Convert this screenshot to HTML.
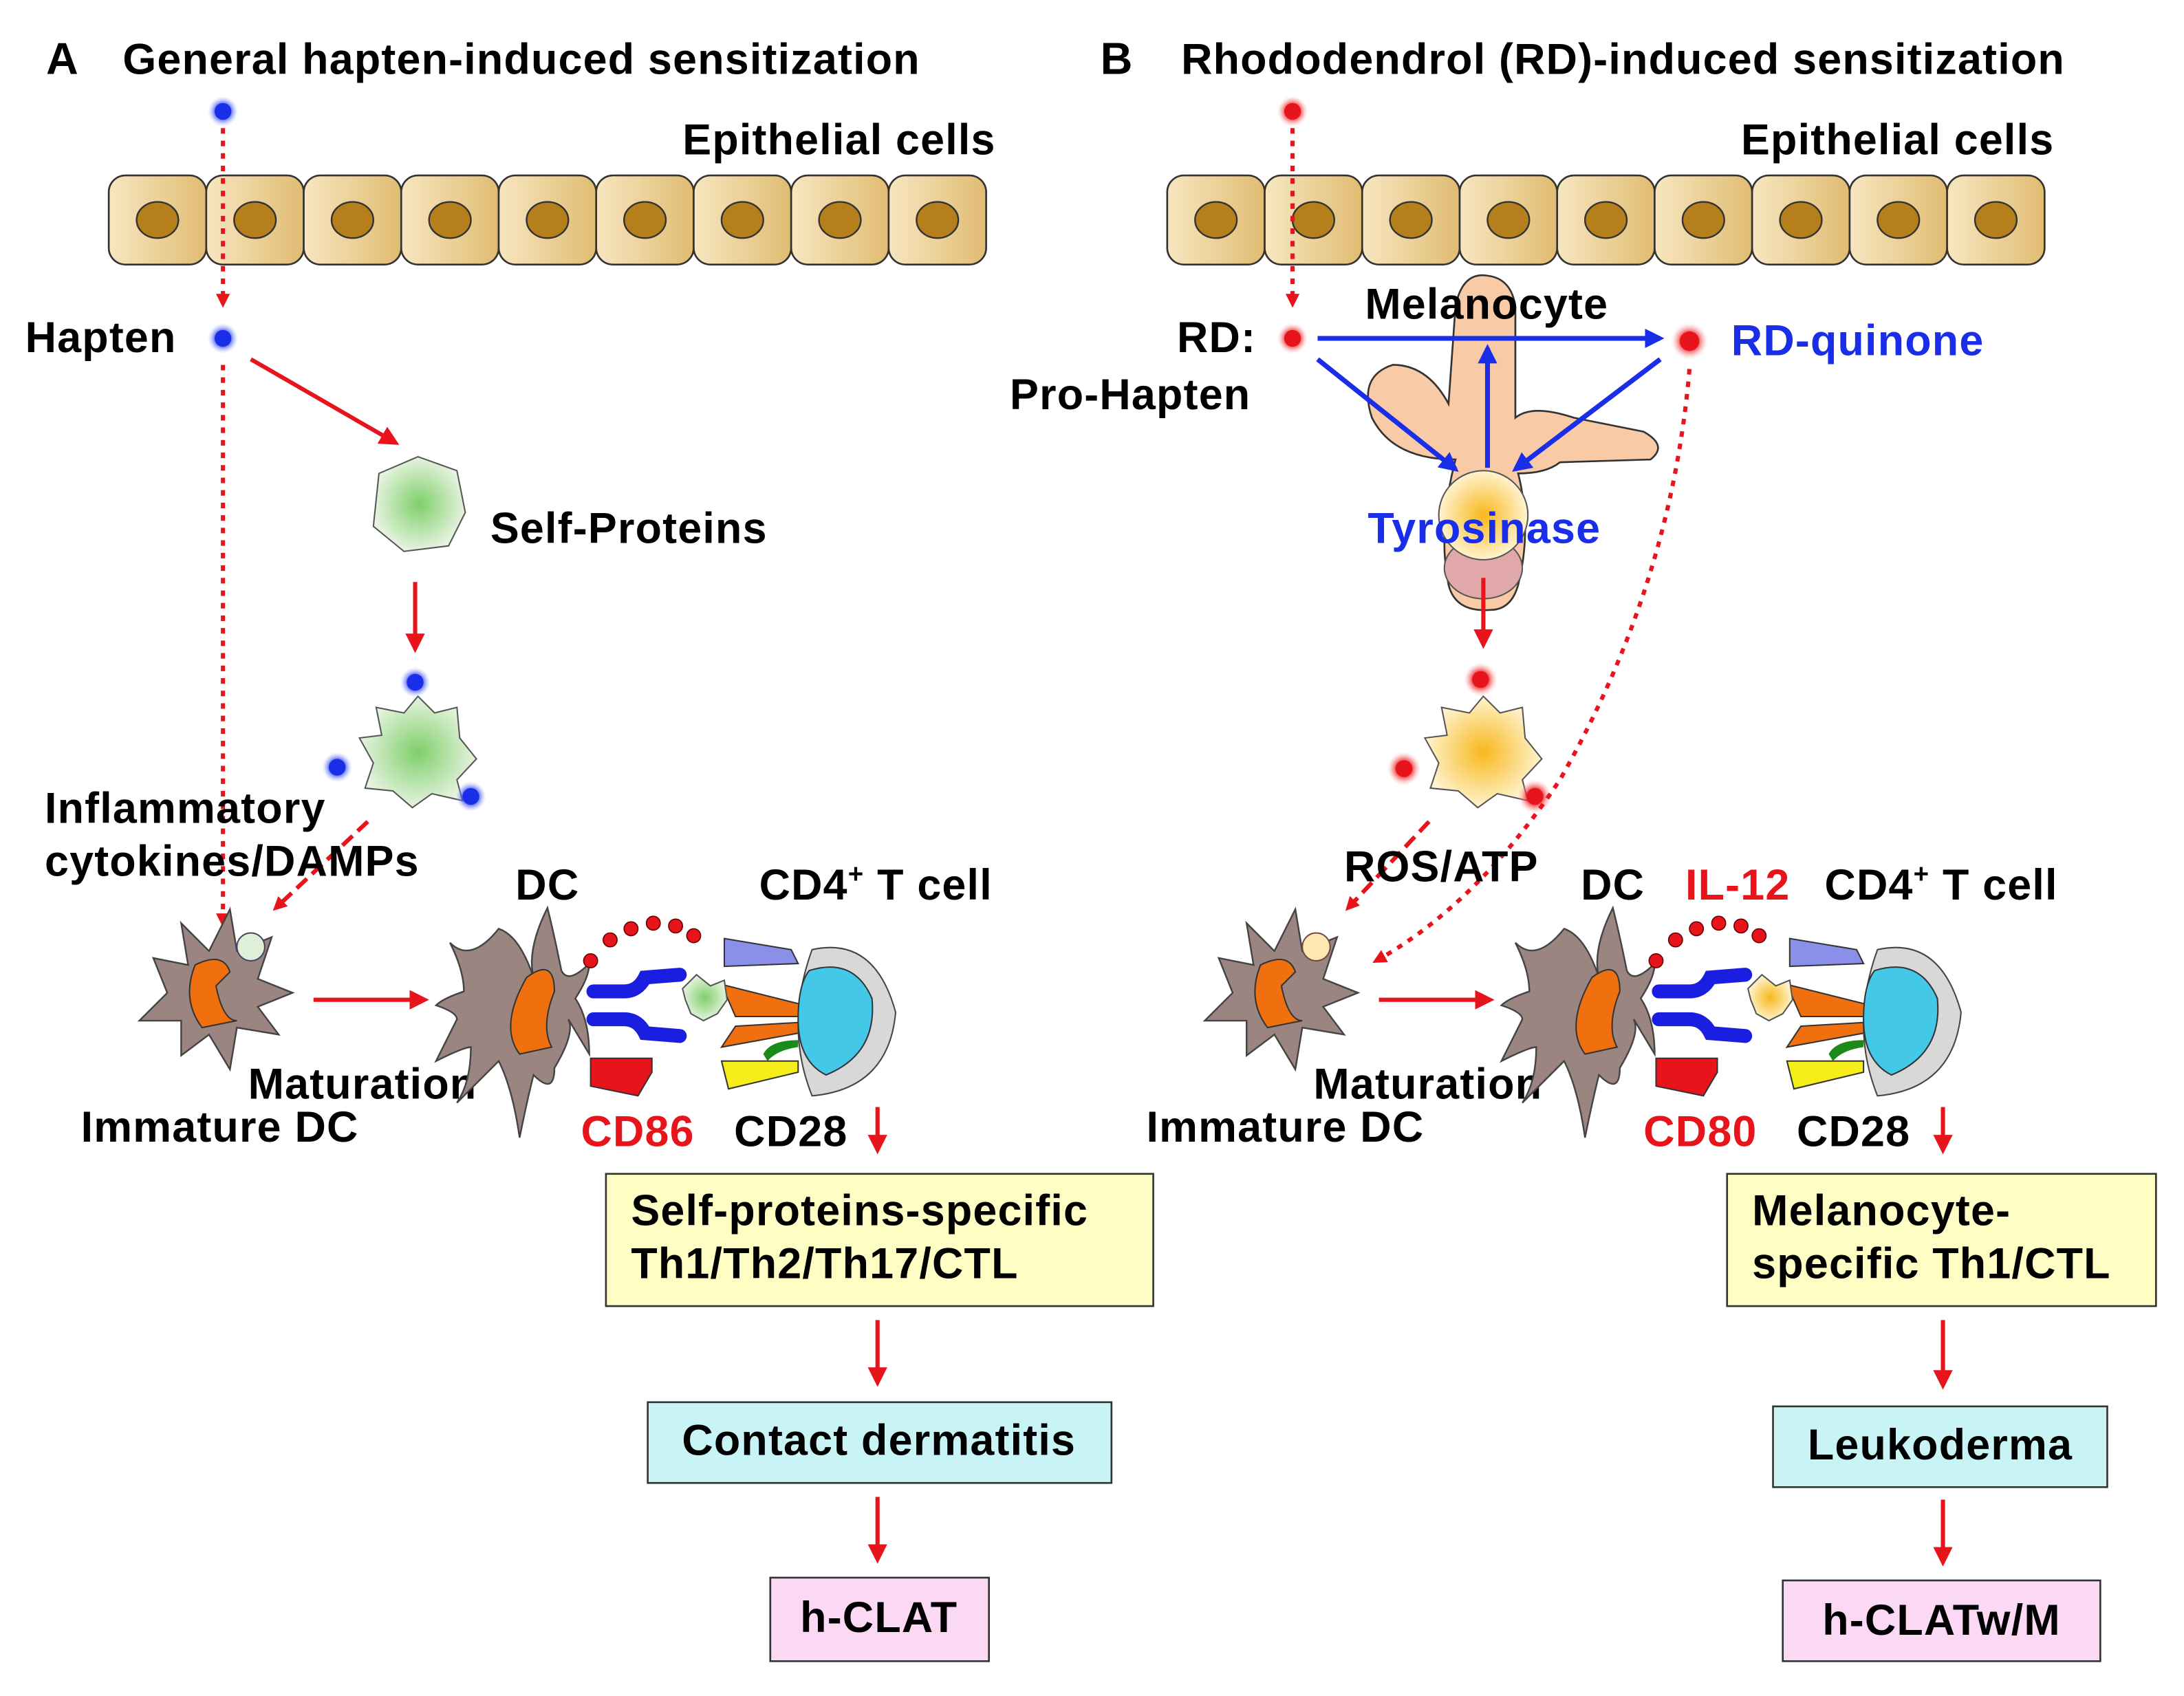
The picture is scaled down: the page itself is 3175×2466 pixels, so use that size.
<!DOCTYPE html>
<html><head><meta charset="utf-8"><style>
html,body{margin:0;padding:0;background:#fff}
svg{display:block}
text{font-family:"Liberation Sans",Arial,sans-serif;font-weight:bold;letter-spacing:0.6px}
</style></head><body>
<svg width="3175" height="2466" viewBox="0 0 1568 1218" xmlns="http://www.w3.org/2000/svg">
<defs>
<marker id="ar" markerWidth="10" markerHeight="10" refX="7" refY="5" orient="auto" markerUnits="userSpaceOnUse"><path d="M0,0 L10,5 L0,10 z" fill="#e8141b"/></marker>
<marker id="ab" markerWidth="14" markerHeight="14" refX="11" refY="7" orient="auto" markerUnits="userSpaceOnUse"><path d="M0,0 L14,7 L0,14 z" fill="#1a2ee8"/></marker>
<marker id="ar2" markerWidth="14" markerHeight="14" refX="11" refY="7" orient="auto" markerUnits="userSpaceOnUse"><path d="M0,0 L14,7 L0,14 z" fill="#e8141b"/></marker>
<linearGradient id="cellg" x1="0" x2="1"><stop offset="0" stop-color="#f8e6c0"/><stop offset="1" stop-color="#e0bc72"/></linearGradient>
<radialGradient id="gg"><stop offset="0" stop-color="#7fcf6a"/><stop offset="1" stop-color="#e6f3df"/></radialGradient>
<radialGradient id="yg"><stop offset="0" stop-color="#f7b81c"/><stop offset="1" stop-color="#fff3cf"/></radialGradient>
<radialGradient id="bglow"><stop offset="0.4" stop-color="#1a2ee8"/><stop offset="1" stop-color="#b8c8ff" stop-opacity="0"/></radialGradient>
<radialGradient id="rglow"><stop offset="0.4" stop-color="#e8141b"/><stop offset="1" stop-color="#ffb0b0" stop-opacity="0"/></radialGradient>
<g id="cell"><rect x="0" y="0" width="70" height="64" rx="12" fill="url(#cellg)" stroke="#333" stroke-width="1.3"/><ellipse cx="35" cy="32" rx="15" ry="13" fill="#b5801c" stroke="#333" stroke-width="1.2"/></g>
<g id="row"><use href="#cell" x="0"/><use href="#cell" x="70"/><use href="#cell" x="140"/><use href="#cell" x="210"/><use href="#cell" x="280"/><use href="#cell" x="350"/><use href="#cell" x="420"/><use href="#cell" x="490"/><use href="#cell" x="560"/></g>
<g id="idc"><path d="M-45,-20 L-20,-15 L-25,-45 L-5,-25 L10,-55 L15,-25 L40,-35 L30,-5 L55,5 L30,15 L45,35 L15,30 L10,60 L-5,35 L-25,50 L-25,25 L-55,25 L-35,5 Z" fill="#9b8580" stroke="#444" stroke-width="1.2"/><path d="M-15,-15 Q5,-25 10,-10 L0,0 Q5,25 15,25 L-10,30 Q-25,10 -15,-15Z" fill="#f07010" stroke="#333"/></g>
<g id="syn">
<path d="M25,-60 Q10,-30 15,-10 Q5,-40 -10,-45 Q-30,-20 -45,-35 Q-35,-15 -35,0 Q-50,5 -55,10 Q-40,15 -40,20 Q-50,40 -55,50 Q-35,40 -30,40 Q-30,65 -40,80 Q-20,60 -10,50 Q0,70 5,105 Q10,80 15,60 Q30,75 30,55 Q45,30 40,20 Q55,45 55,45 Q55,20 45,5 Q55,-10 55,-20 Q40,-5 35,-15 Q30,-40 25,-60Z" fill="#9b8580" stroke="#444" stroke-width="1.2"/>
<path d="M10,-10 Q30,-25 30,0 Q20,25 28,40 L5,45 Q-10,25 10,-10Z" fill="#f07010" stroke="#333"/>
<path d="M58,0 L80,0 Q90,0 95,-10 L120,-12" stroke="#1a1ee0" stroke-width="10" fill="none" stroke-linecap="round"/>
<path d="M58,20 L80,20 Q90,20 95,30 L120,32" stroke="#1a1ee0" stroke-width="10" fill="none" stroke-linecap="round"/>
<path d="M56,48 L100,48 L100,58 L90,75 L56,68Z" fill="#e8141b" stroke="#333"/>
<path d="M152,-38 L200,-30 L205,-20 L152,-18Z" fill="#8a8fe8" stroke="#333"/>
<path d="M150,-5 L210,10 L205,18 L160,18Z" fill="#f07010" stroke="#333"/>
<path d="M150,40 L160,25 L210,22 L205,30Z" fill="#f07010" stroke="#333"/>
<path d="M180,45 Q185,35 205,35 L205,40 Q190,42 183,50Z" fill="#1a8a1a"/>
<path d="M150,50 L205,50 L205,58 L155,70Z" fill="#f5ee1a" stroke="#333"/>
<path d="M215,-30 Q260,-40 275,15 Q270,70 215,75 Q195,25 215,-30Z" fill="#d8d8d8" stroke="#444"/>
<path d="M213,-15 Q245,-25 258,5 Q262,45 225,60 Q205,50 205,20 Q205,-5 213,-15Z" fill="#44c8e8" stroke="#333"/>
<g fill="#e8141b" stroke="#600" stroke-width="0.8"><circle cx="56" cy="-22" r="5"/><circle cx="70" cy="-37" r="5"/><circle cx="85" cy="-45" r="5"/><circle cx="101" cy="-49" r="5"/><circle cx="117" cy="-47" r="5"/><circle cx="130" cy="-40" r="5"/></g>
</g>
</defs>
<rect width="1568" height="1218" fill="#fff"/>
<text x="33" y="53" font-size="32">A</text>
<text x="88" y="53" font-size="31">General hapten-induced sensitization</text>
<text x="790" y="53" font-size="32">B</text>
<text x="848" y="53" font-size="31">Rhododendrol (RD)-induced sensitization</text>
<text x="490" y="111" font-size="31">Epithelial cells</text>
<text x="1250" y="111" font-size="31">Epithelial cells</text>
<use href="#row" x="78" y="126"/>
<use href="#row" x="838" y="126"/>

<circle cx="160" cy="80" r="11" fill="url(#bglow)"/><circle cx="160" cy="80" r="6" fill="#1a2ee8"/>
<line x1="160" y1="92" x2="160" y2="218" stroke="#e8141b" stroke-width="3" stroke-dasharray="4,5" marker-end="url(#ar)"/>
<text x="18" y="253" font-size="31">Hapten</text>
<circle cx="160" cy="243" r="11" fill="url(#bglow)"/><circle cx="160" cy="243" r="6" fill="#1a2ee8"/>
<line x1="160" y1="262" x2="160" y2="663" stroke="#e8141b" stroke-width="3" stroke-dasharray="4,5" marker-end="url(#ar)"/>
<line x1="180" y1="258" x2="284" y2="318" stroke="#e8141b" stroke-width="3" marker-end="url(#ar2)"/>
<path d="M272,340 L300,328 L328,338 L334,368 L322,392 L290,396 L268,378 Z" fill="url(#gg)" stroke="#555"/>
<text x="352" y="390" font-size="31">Self-Proteins</text>
<line x1="298" y1="418" x2="298" y2="466" stroke="#e8141b" stroke-width="3" marker-end="url(#ar2)"/>
<path d="M270,508 L290,512 L300,500 L312,512 L328,508 L330,530 L342,545 L328,560 L332,575 L310,570 L296,580 L282,568 L262,566 L268,548 L258,530 L274,528Z" fill="url(#gg)" stroke="#555"/>
<g><circle cx="298" cy="490" r="11" fill="url(#bglow)"/><circle cx="298" cy="490" r="6" fill="#1a2ee8"/><circle cx="242" cy="551" r="11" fill="url(#bglow)"/><circle cx="242" cy="551" r="6" fill="#1a2ee8"/><circle cx="338" cy="572" r="11" fill="url(#bglow)"/><circle cx="338" cy="572" r="6" fill="#1a2ee8"/></g>
<line x1="264" y1="590" x2="198" y2="652" stroke="#e8141b" stroke-width="3" stroke-dasharray="10,5" marker-end="url(#ar)"/>
<text x="32" y="591" font-size="31">Inflammatory</text>
<text x="32" y="629" font-size="31">cytokines/DAMPs</text>
<use href="#idc" x="155" y="708"/>
<circle cx="180" cy="680" r="10" fill="#dff0d8" stroke="#446"/>
<line x1="225" y1="718" x2="305" y2="718" stroke="#e8141b" stroke-width="3" marker-end="url(#ar2)"/>
<text x="178" y="789" font-size="31">Maturation</text>
<text x="58" y="820" font-size="31">Immature DC</text>
<text x="370" y="646" font-size="31">DC</text>
<text x="545" y="646" font-size="31">CD4<tspan font-size="19" dy="-12">+</tspan><tspan dy="12"> T cell</tspan></text>
<use href="#syn" x="368" y="712"/>
<path d="M490,710 L500,700 L510,708 L520,704 L522,718 L515,728 L505,733 L496,728 L492,718Z" fill="url(#gg)" stroke="#555"/>
<text x="417" y="823" font-size="31" fill="#e8141b">CD86</text>
<text x="527" y="823" font-size="31">CD28</text>
<line x1="630" y1="795" x2="630" y2="826" stroke="#e8141b" stroke-width="3" marker-end="url(#ar2)"/>
<rect x="435" y="843" width="393" height="95" fill="#fdfdc4" stroke="#333" stroke-width="1.3"/>
<text x="453" y="880" font-size="31">Self-proteins-specific</text>
<text x="453" y="918" font-size="31">Th1/Th2/Th17/CTL</text>
<line x1="630" y1="948" x2="630" y2="993" stroke="#e8141b" stroke-width="3" marker-end="url(#ar2)"/>
<rect x="465" y="1007" width="333" height="58" fill="#c8f4f6" stroke="#333" stroke-width="1.3"/>
<text x="631" y="1045" font-size="31" text-anchor="middle">Contact dermatitis</text>
<line x1="630" y1="1075" x2="630" y2="1120" stroke="#e8141b" stroke-width="3" marker-end="url(#ar2)"/>
<rect x="553" y="1133" width="157" height="60" fill="#fbd8f4" stroke="#333" stroke-width="1.3"/>
<text x="631" y="1172" font-size="31" text-anchor="middle">h-CLAT</text>

<circle cx="928" cy="80" r="11" fill="url(#rglow)"/><circle cx="928" cy="80" r="6" fill="#e8141b"/>
<line x1="928" y1="92" x2="928" y2="218" stroke="#e8141b" stroke-width="3" stroke-dasharray="4,5" marker-end="url(#ar)"/>
<path d="M1045,330 Q1000,330 985,300 Q975,270 1000,262 Q1025,262 1040,290 L1045,220 Q1050,195 1068,198 Q1085,200 1088,220 L1088,300 Q1100,290 1130,300 L1180,310 Q1198,320 1185,330 L1120,332 Q1110,340 1090,340 Q1100,380 1090,420 Q1085,438 1070,438 Q1045,440 1040,420 Q1032,380 1045,330Z" fill="#f9caa6" stroke="#333" stroke-width="1.3"/>
<ellipse cx="1065" cy="408" rx="28" ry="22" fill="#e0a8a8" stroke="#555"/>
<ellipse cx="1065" cy="370" rx="32" ry="32" fill="url(#yg)" stroke="#555"/>
<text x="980" y="229" font-size="31">Melanocyte</text>
<text x="845" y="253" font-size="31">RD:</text>
<text x="725" y="294" font-size="31">Pro-Hapten</text>
<circle cx="928" cy="243" r="11" fill="url(#rglow)"/><circle cx="928" cy="243" r="6" fill="#e8141b"/>
<line x1="946" y1="243" x2="1192" y2="243" stroke="#1a2ee8" stroke-width="3.5" marker-end="url(#ab)"/>
<line x1="946" y1="258" x2="1045" y2="337" stroke="#1a2ee8" stroke-width="3.5" marker-end="url(#ab)"/>
<line x1="1068" y1="336" x2="1068" y2="250" stroke="#1a2ee8" stroke-width="3.5" marker-end="url(#ab)"/>
<line x1="1192" y1="258" x2="1088" y2="337" stroke="#1a2ee8" stroke-width="3.5" marker-end="url(#ab)"/>
<circle cx="1213" cy="245" r="13" fill="url(#rglow)"/><circle cx="1213" cy="245" r="7" fill="#e8141b"/>
<text x="1243" y="255" font-size="31" fill="#1a2ee8">RD-quinone</text>
<text x="982" y="390" font-size="31" fill="#1a2ee8">Tyrosinase</text>
<line x1="1065" y1="415" x2="1065" y2="463" stroke="#e8141b" stroke-width="3" marker-end="url(#ar2)"/>
<path d="M1035,508 L1055,512 L1065,500 L1077,512 L1093,508 L1095,530 L1107,545 L1093,560 L1097,575 L1075,570 L1061,580 L1047,568 L1027,566 L1033,548 L1023,530 L1039,528Z" fill="url(#yg)" stroke="#555"/>
<circle cx="1063" cy="488" r="12" fill="url(#rglow)"/><circle cx="1063" cy="488" r="6" fill="#e8141b"/>
<circle cx="1008" cy="552" r="12" fill="url(#rglow)"/><circle cx="1008" cy="552" r="6" fill="#e8141b"/>
<circle cx="1102" cy="572" r="12" fill="url(#rglow)"/><circle cx="1102" cy="572" r="6" fill="#e8141b"/>
<line x1="1026" y1="590" x2="968" y2="652" stroke="#e8141b" stroke-width="3" stroke-dasharray="10,5" marker-end="url(#ar)"/>
<path d="M1213,265 Q1200,420 1120,560 Q1060,650 988,690" stroke="#e8141b" stroke-width="3" stroke-dasharray="4,5" fill="none" marker-end="url(#ar)"/>
<text x="965" y="633" font-size="31">ROS/ATP</text>
<use href="#idc" x="920" y="708"/>
<circle cx="945" cy="680" r="10" fill="#fde8b0" stroke="#744"/>
<line x1="990" y1="718" x2="1070" y2="718" stroke="#e8141b" stroke-width="3" marker-end="url(#ar2)"/>
<text x="943" y="789" font-size="31">Maturation</text>
<text x="823" y="820" font-size="31">Immature DC</text>
<text x="1135" y="646" font-size="31">DC</text>
<text x="1210" y="646" font-size="31" fill="#e8141b">IL-12</text>
<text x="1310" y="646" font-size="31">CD4<tspan font-size="19" dy="-12">+</tspan><tspan dy="12"> T cell</tspan></text>
<use href="#syn" x="1133" y="712"/>
<path d="M1255,710 L1265,700 L1275,708 L1285,704 L1287,718 L1280,728 L1270,733 L1261,728 L1257,718Z" fill="url(#yg)" stroke="#555"/>
<text x="1180" y="823" font-size="31" fill="#e8141b">CD80</text>
<text x="1290" y="823" font-size="31">CD28</text>
<line x1="1395" y1="795" x2="1395" y2="826" stroke="#e8141b" stroke-width="3" marker-end="url(#ar2)"/>
<rect x="1240" y="843" width="308" height="95" fill="#fdfdc4" stroke="#333" stroke-width="1.3"/>
<text x="1258" y="880" font-size="31">Melanocyte-</text>
<text x="1258" y="918" font-size="31">specific Th1/CTL</text>
<line x1="1395" y1="948" x2="1395" y2="995" stroke="#e8141b" stroke-width="3" marker-end="url(#ar2)"/>
<rect x="1273" y="1010" width="240" height="58" fill="#c8f4f6" stroke="#333" stroke-width="1.3"/>
<text x="1393" y="1048" font-size="31" text-anchor="middle">Leukoderma</text>
<line x1="1395" y1="1077" x2="1395" y2="1122" stroke="#e8141b" stroke-width="3" marker-end="url(#ar2)"/>
<rect x="1280" y="1135" width="228" height="58" fill="#fbd8f4" stroke="#333" stroke-width="1.3"/>
<text x="1394" y="1174" font-size="31" text-anchor="middle">h-CLATw/M</text>
</svg>
</body></html>
